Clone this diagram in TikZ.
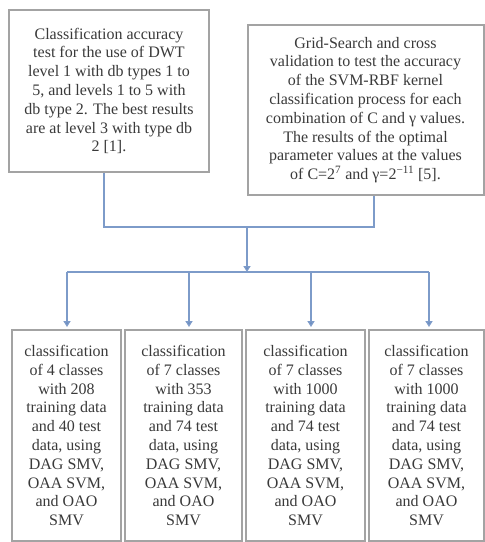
\documentclass[tikz,border=0pt]{standalone}
\usepackage{fontspec}
\setmainfont{Liberation Serif}
\usetikzlibrary{arrows.meta}
\definecolor{txt}{HTML}{3A3A3A}
\definecolor{bord}{HTML}{A3A3A3}
\definecolor{conncol}{HTML}{7D9BC9}
\definecolor{tipcol}{HTML}{4A74B4}
\tikzset{
  box/.style={draw=bord, line width=2pt, align=center, text=txt, inner sep=0pt,
    font=\fontsize{16}{18.8}\selectfont},
  conn/.style={draw=conncol, line width=1.6pt},
  arr/.style={conn, -{Triangle[width=7pt,length=6pt,fill=tipcol]}, shorten >=2pt}
}
\begin{document}
\begin{tikzpicture}[x=1pt,y=-1pt]
\useasboundingbox (0,0) rectangle (485,542);
\fill[white] (0,0) rectangle (485,542);
\node[box, minimum width=200pt, minimum height=162pt] (L) at (109,91)
 {Classification accuracy\\test for the use of DWT\\level 1 with db types 1 to\\5, and levels 1 to 5 with\\db type 2. The best results\\are at level 3 with type db\\2 [1].};
\node[box, minimum width=236pt, minimum height=170pt] (R) at (365.5,110)
 {Grid-Search and cross\\validation to test the accuracy\\of the SVM-RBF kernel\\classification process for each\\combination of C and γ values.\\The results of the optimal\\parameter values at the values\\of C=2\textsuperscript{7} and γ=2\textsuperscript{−11} [5].};
\node[box, minimum width=109pt, minimum height=211pt] (B1) at (66.5,435.5)
 {classification\\of 4 classes\\with 208\\training data\\and 40 test\\data, using\\DAG SMV,\\OAA SVM,\\and OAO\\SMV};
\node[box, minimum width=117pt, minimum height=211pt] (B2) at (183.5,435.5)
 {classification\\of 7 classes\\with 353\\training data\\and 74 test\\data, using\\DAG SMV,\\OAA SVM,\\and OAO\\SMV};
\node[box, minimum width=119pt, minimum height=211pt] (B3) at (305.5,435.5)
 {classification\\of 7 classes\\with 1000\\training data\\and 74 test\\data, using\\DAG SMV,\\OAA SVM,\\and OAO\\SMV};
\node[box, minimum width=115pt, minimum height=211pt] (B4) at (426.5,435.5)
 {classification\\of 7 classes\\with 1000\\training data\\and 74 test\\data, using\\DAG SMV,\\OAA SVM,\\and OAO\\SMV};
\coordinate (lj) at (104,227);
\coordinate (rj) at (374,227);
\coordinate (m) at (247,227);
\coordinate (bus) at (247,272);
\coordinate (d1) at (67,272);
\coordinate (d2) at (189,272);
\coordinate (d3) at (311,272);
\coordinate (d4) at (429,272);
\draw[conn] (L.south -| lj) -- (lj) -- (rj) -- (R.south -| rj);
\draw[arr, shorten >=0pt] (m) -- (bus);
\draw[conn] (d1) -- (d4);
\draw[arr] (d1) -- (d1 |- B1.north);
\draw[arr] (d2) -- (d2 |- B2.north);
\draw[arr] (d3) -- (d3 |- B3.north);
\draw[arr] (d4) -- (d4 |- B4.north);
\end{tikzpicture}
\end{document}
